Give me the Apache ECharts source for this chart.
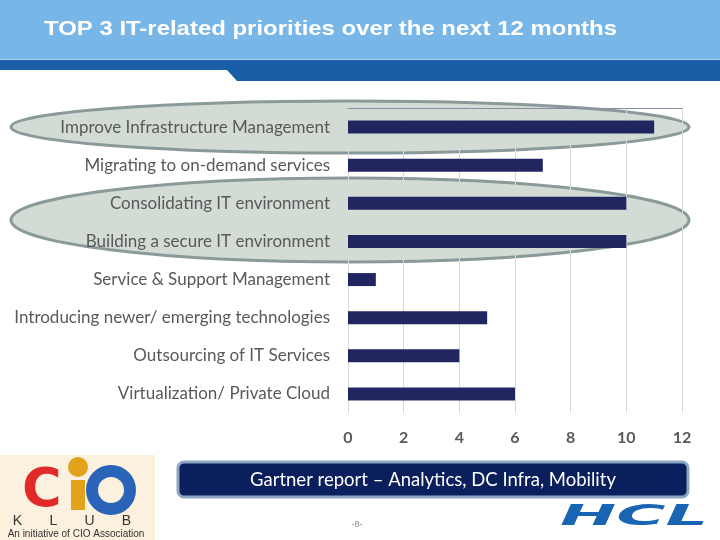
<!DOCTYPE html>
<html><head><meta charset="utf-8">
<script src="https://cdn.jsdelivr.net/npm/echarts@6/dist/echarts.min.js"></script>
<style>html,body{margin:0;padding:0;background:#fff}#c{width:720px;height:540px}</style>
</head><body><div id="c"></div>
<script>
var categories = ["Improve Infrastructure Management","Migrating to on-demand services","Consolidating IT environment","Building a secure IT environment","Service & Support Management","Introducing newer/ emerging technologies","Outsourcing of IT Services","Virtualization/ Private Cloud"];
var values = [11, 7, 10, 10, 1, 5, 4, 6];
var xTicks = [0, 2, 4, 6, 8, 10, 12];
var titleText = "TOP 3 IT-related priorities over the next 12 months";
var noteText = "Gartner report \u2013 Analytics, DC Infra, Mobility";

var chart = echarts.init(document.getElementById('c'), null, {renderer:'canvas'});
var lab = "Lato, 'Open Sans', sans-serif";
chart.setOption({
  animation:false,
  grid:{left:348,right:38,top:108,bottom:127},
  xAxis:[{type:'value',min:xTicks[0],max:xTicks[xTicks.length-1],interval:2,position:'bottom',z:1,
    axisLine:{show:false},axisTick:{show:false},
    splitLine:{show:true,lineStyle:{color:'#d9d9d9',width:1}},
    axisLabel:{color:'#595959',fontSize:16,fontWeight:'bold',fontFamily:lab,margin:17}},
    {type:'value',min:0,max:12,position:'top',z:1,axisLine:{show:true,lineStyle:{color:'#8c8ca0',width:1}},
    axisTick:{show:false},axisLabel:{show:false},splitLine:{show:false}}],
  yAxis:{type:'category',data:categories,inverse:true,z:5,
    axisLine:{show:false},axisTick:{show:false},
    axisLabel:{color:'#595959',fontSize:17,fontFamily:lab,margin:18}},
  series:[{type:'bar',data:values,barWidth:13,z:3,itemStyle:{color:'#222660'}}],
  graphic:{elements:[
    {type:'rect',z:-5,shape:{x:0,y:0,width:720,height:59},style:{fill:'#77b6e6'}},
    {type:'rect',z:-5,shape:{x:0,y:59,width:720,height:1},style:{fill:'#a9d0f0'}},
    {type:'polygon',z:-5,shape:{points:[[0,60],[720,60],[720,81],[237,81],[227,70],[0,70]]},style:{fill:'#1b5ea8'}},
    {type:'text',z:10,x:44,y:29,scaleX:1.14,style:{x:0,y:0,text:titleText,fill:'#ffffff',fontSize:21,fontWeight:'bold',fontFamily:"'Liberation Sans', Arial, sans-serif",verticalAlign:'middle'}},
    {type:'ellipse',z:-2,shape:{cx:350,cy:127,rx:339,ry:26},style:{fill:'#d3dbd5',stroke:'#8a9a9a',lineWidth:3}},
    {type:'ellipse',z:-2,shape:{cx:350,cy:220,rx:339,ry:42},style:{fill:'#d3dbd5',stroke:'#8a9a9a',lineWidth:3}},
    {type:'rect',z:10,shape:{x:178,y:462,width:510,height:35,r:6},style:{fill:'#0b1f5c',stroke:'#8ea6c4',lineWidth:3}},
    {type:'text',z:11,style:{x:433,y:480,text:noteText,fill:'#ffffff',fontSize:18.5,fontFamily:lab,align:'center',verticalAlign:'middle'}},
    {type:'text',z:10,style:{x:357,y:525,text:'-8-',fill:'#888888',fontSize:9,fontFamily:'sans-serif',align:'center',verticalAlign:'middle'}},
    {type:'rect',z:-5,shape:{x:0,y:455,width:155,height:85},style:{fill:'#fbf1de'}},
    {type:'text',z:10,style:{x:22,y:492,text:'C',fill:'#e02a2a',fontSize:54,fontWeight:'bold',fontFamily:"'DejaVu Sans', sans-serif",align:'left',verticalAlign:'middle'}},
    {type:'circle',z:10,shape:{cx:78,cy:467,r:10},style:{fill:'#e3a21c'}},
    {type:'rect',z:10,shape:{x:71,y:480,width:14,height:30},style:{fill:'#e3a21c'}},
    {type:'circle',z:10,shape:{cx:111,cy:490,r:19},style:{fill:'none',stroke:'#2a64b8',lineWidth:12}},
    {type:'text',z:10,style:{x:72,y:521,text:'K       L       U       B',fill:'#333333',fontSize:14,fontFamily:"'Liberation Sans', sans-serif",align:'center',verticalAlign:'middle'}},
    {type:'text',z:10,style:{x:76,y:534,text:'An initiative of CIO Association',fill:'#333333',fontSize:10,fontFamily:"'Liberation Sans', sans-serif",align:'center',verticalAlign:'middle'}},
    {type:'text',z:10,scaleX:2.4,x:560,y:518,style:{x:0,y:0,text:'HCL',fill:'#1a64b4',fontSize:28,fontWeight:'bold',fontStyle:'italic',fontFamily:"'DejaVu Sans', sans-serif",align:'left',verticalAlign:'middle'}}
  ]}
});
</script></body></html>
